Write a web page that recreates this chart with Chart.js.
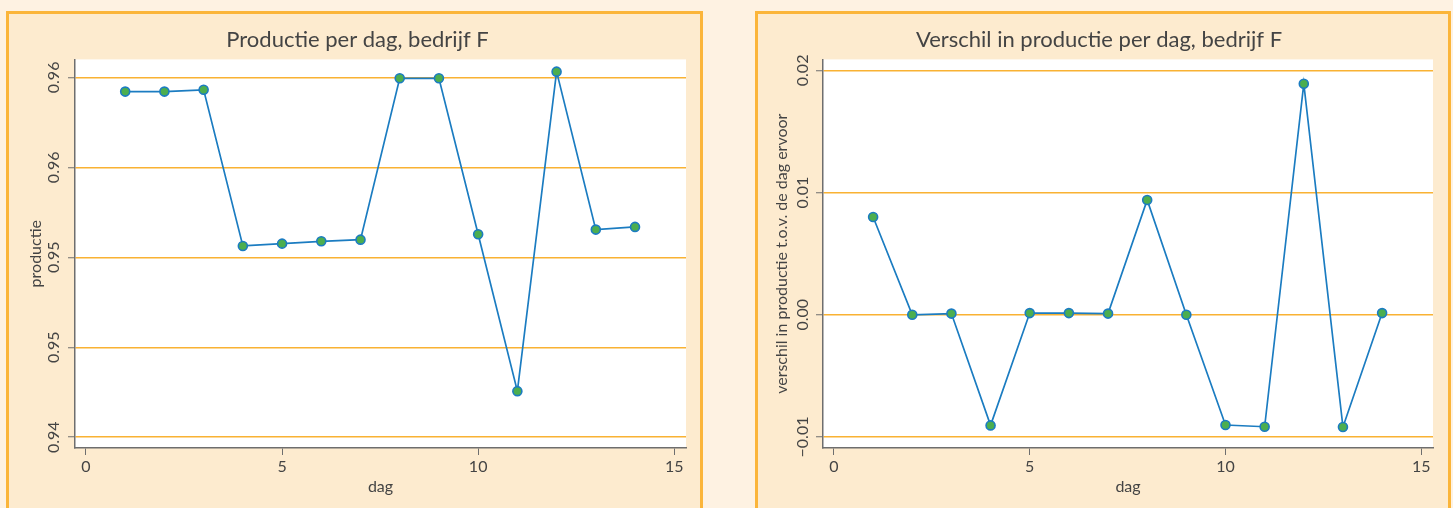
<!DOCTYPE html>
<html>
<head>
<meta charset="utf-8">
<script src="https://cdn.jsdelivr.net/npm/chart.js@4/dist/chart.umd.min.js"></script>
<style>
    html, body { margin: 0; padding: 0; background: #fef2e2; overflow: hidden; }
    .panel {
        position: absolute;
        top: 11px;
        height: 520px;
        border: 3px solid #fbb53a;
        background: #fdebcf;
    }
    #panel1 { left: 6px; width: 691px; }
    #panel2 { left: 755px; width: 690px; }
    .panel canvas { position: absolute; left: 0; top: 0; }
</style>
</head>
<body>
<div class="panel" id="panel1"><canvas id="chart1" width="691" height="494"></canvas></div>
<div class="panel" id="panel2"><canvas id="chart2" width="690" height="494"></canvas></div>
<script>
    'use strict';

    var days = [1, 2, 3, 4, 5, 6, 7, 8, 9, 10, 11, 12, 13, 14];
    var productie = [0.95921, 0.95921, 0.95931, 0.95063, 0.95076, 0.95089, 0.95098, 0.95995, 0.95995, 0.95128, 0.94256, 0.96032, 0.95154, 0.95169];
    var verschil = [0.0080, 0.0000, 0.0001, -0.00905, 0.00014, 0.00014, 0.0001, 0.0094, 0.0000, -0.00902, -0.00916, 0.01891, -0.00918, 0.00014];

    var xTicks = [0, 5, 10, 15];
    var yTicks1 = [0.94, 0.945, 0.95, 0.955, 0.96];
    var yTickLabels1 = ['0.94', '0.95', '0.95', '0.96', '0.96'];
    var yTicks2 = [-0.01, 0, 0.01, 0.02];
    var yTickLabels2 = ['\u22120.01', '0.00', '0.01', '0.02'];

    var FONT = 'Lato';
    var TEXT = '#444444';
    var GRID = '#f9b233';
    var AXIS = '#6e6e6e';

    // white plot area, the rest of the panel stays cream
    var plotBackground = {
        id: 'plotBackground',
        beforeDraw: function (chart) {
            var a = chart.chartArea;
            var ctx = chart.ctx;
            ctx.save();
            ctx.fillStyle = '#ffffff';
            ctx.fillRect(a.left, a.top, a.right - a.left, a.bottom - a.top);
            ctx.restore();
        }
    };

    function makeChart(canvasId, cfg) {
        var points = days.map(function (d, i) {
            return {x: d, y: cfg.values[i]};
        });

        return new Chart(document.getElementById(canvasId), {
            type: 'scatter',
            data: {
                datasets: [{
                    data: points,
                    showLine: true,
                    borderColor: '#1b7cc1',
                    borderWidth: 1.7,
                    pointRadius: 4.5,
                    pointBorderWidth: 1.6,
                    pointBackgroundColor: '#4cae4f',
                    pointBorderColor: '#1b7cc1'
                }]
            },
            options: {
                responsive: false,
                animation: false,
                layout: {padding: {left: cfg.padLeft, right: cfg.padRight, top: 0, bottom: 0}},
                plugins: {
                    legend: {display: false},
                    tooltip: {enabled: false},
                    title: {
                        display: true,
                        text: cfg.title,
                        color: TEXT,
                        font: {family: FONT, size: 22, weight: 'normal'},
                        padding: {top: 13, bottom: 6}
                    }
                },
                scales: {
                    x: {
                        type: 'linear',
                        min: -0.28,
                        max: 15.3,
                        afterBuildTicks: function (scale) {
                            scale.ticks = xTicks.map(function (v) { return {value: v}; });
                        },
                        afterFit: function (scale) { scale.height = 60; },
                        grid: {drawOnChartArea: false, drawTicks: true, tickLength: 7, tickColor: AXIS, tickWidth: 1},
                        border: {display: true, color: AXIS, width: 1.5},
                        ticks: {color: TEXT, font: {family: FONT, size: 16}, padding: 2.4, maxRotation: 0},
                        title: {display: true, text: 'dag', color: TEXT, font: {family: FONT, size: 16}, padding: {top: 0, bottom: 11.4}}
                    },
                    y: {
                        type: 'linear',
                        min: cfg.yMin,
                        max: cfg.yMax,
                        afterBuildTicks: function (scale) {
                            scale.ticks = cfg.yTicks.map(function (v) { return {value: v}; });
                        },
                        afterFit: function (scale) { scale.width = cfg.axisWidth - cfg.padLeft; },
                        grid: {color: GRID, lineWidth: 1.5, drawTicks: true, tickLength: 7, tickColor: AXIS, tickWidth: 1},
                        border: {display: true, color: AXIS, width: 1.5},
                        ticks: {
                            color: TEXT,
                            font: {family: FONT, size: 16},
                            minRotation: 90,
                            maxRotation: 90,
                            crossAlign: 'center',
                            padding: cfg.tickPad,
                            callback: function (value, index) {
                                return cfg.yTickLabels[index];
                            }
                        },
                        title: {display: true, text: cfg.yTitle, color: TEXT, font: {family: FONT, size: 16}, padding: {top: cfg.titlePad, bottom: 0}}
                    }
                }
            },
            plugins: [plotBackground]
        });
    }

    makeChart('chart1', {
        title: 'Productie per dag, bedrijf F',
        yTitle: 'productie',
        values: productie,
        yMin: 0.9394,
        yMax: 0.961,
        yTicks: yTicks1,
        yTickLabels: yTickLabels1,
        axisWidth: 66,
        padLeft: 20,
        padRight: 14,
        tickPad: -1.5,
        titlePad: -2.6
    });

    makeChart('chart2', {
        title: 'Verschil in productie per dag, bedrijf F',
        yTitle: 'verschil in productie t.o.v. de dag ervoor',
        values: verschil,
        yMin: -0.0109,
        yMax: 0.0209,
        yTicks: yTicks2,
        yTickLabels: yTickLabels2,
        axisWidth: 65,
        padLeft: 7,
        padRight: 15,
        tickPad: -7.5,
        titlePad: 7.4
    });
</script>
</body>
</html>
